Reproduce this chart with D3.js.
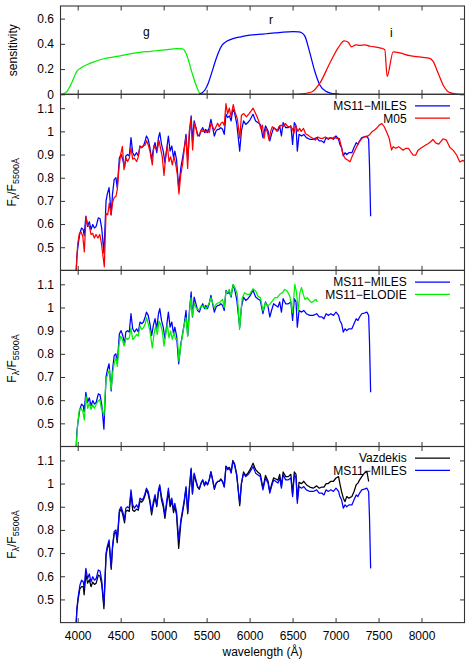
<!DOCTYPE html>
<html lang="en">
<head>
<meta charset="UTF-8">
<title>Spectra comparison</title>
<style>
    body { margin: 0; background: #fff; }
    #SVG { font-family: "Liberation Sans", Arial, sans-serif; }
    .tick text { font-size: 12px; fill: #000; font-family: "Liberation Sans", Arial, sans-serif; }
    .tick line { stroke: #333; stroke-width: 1; }
    .lbl { font-size: 12px; fill: #000; }
</style>
</head>
<body>
<svg id="SVG"></svg>
<script src="https://d3js.org/d3.v7.min.js"></script>
<script>

// ---------------- data ----------------

// filter response curves
var gWl   = [3810, 3872, 3930, 3988, 4050, 4105, 4180, 4260, 4350, 4453, 4590, 4724, 4850, 4957, 5060, 5151, 5221, 5267, 5326, 5384, 5422, 5480, 5600];
var gSens = [0, 0.02, 0.09, 0.18, 0.215, 0.234, 0.255, 0.274, 0.288, 0.30, 0.318, 0.333, 0.341, 0.349, 0.356, 0.362, 0.36, 0.314, 0.18, 0.06, 0.008, 0.002, 0];

var rWl   = [5414, 5480, 5520, 5558, 5600, 5635, 5680, 5733, 5809, 5900, 6003, 6100, 6198, 6300, 6391, 6507, 6570, 6605, 6643, 6701, 6759, 6817, 6895, 6972, 7050];
var rSens = [0, 0.034, 0.09, 0.168, 0.26, 0.328, 0.39, 0.42, 0.442, 0.456, 0.469, 0.475, 0.48, 0.486, 0.493, 0.496, 0.494, 0.488, 0.461, 0.328, 0.181, 0.074, 0.021, 0.005, 0];

var iWl   = [6500, 6585, 6721, 6817, 6934, 7030, 7100, 7147, 7186, 7236, 7283, 7341, 7400, 7515, 7573, 7600, 7670, 7748, 7864, 7980, 8096, 8135, 8193, 8251, 8329, 8445, 8500];
var iSens = [0, 0.002, 0.018, 0.088, 0.248, 0.368, 0.424, 0.413, 0.376, 0.392, 0.387, 0.392, 0.381, 0.368, 0.354, 0.141, 0.336, 0.328, 0.306, 0.296, 0.285, 0.261, 0.168, 0.074, 0.013, 0, 0];

var filterNames = ["g", "r", "i"];
var filterLabelWl = [4800, 6250, 7650];
var filterLabelS  = [0.46, 0.555, 0.455];

// MS11-MILES (also the wavelength grid of Vazdekis)
var milesWl = [3980, 3990, 4005, 4025, 4045, 4065, 4075, 4095, 4115, 4135,
    4155, 4175, 4195, 4215, 4240, 4260, 4280, 4305, 4330, 4345,
    4365, 4390, 4405, 4425, 4445, 4460, 4485, 4505, 4525, 4545,
    4560, 4580, 4600, 4620, 4640, 4660, 4685, 4705, 4725, 4745,
    4765, 4785, 4800, 4820, 4840, 4860, 4880, 4900, 4920, 4940,
    4955, 4975, 4995, 5015, 5035, 5055, 5075, 5095, 5115, 5130,
    5150, 5175, 5200, 5220, 5240, 5260, 5280, 5300, 5320, 5335,
    5355, 5375, 5395, 5415, 5435, 5455, 5475, 5490, 5510, 5530,
    5550, 5570, 5590, 5610, 5630, 5645, 5665, 5685, 5705, 5725,
    5745, 5765, 5785, 5805, 5825, 5850, 5885, 5905, 5930, 5955,
    5980, 6005, 6040, 6070, 6095, 6125, 6155, 6185, 6215, 6235,
    6255, 6280, 6305, 6330, 6350, 6370, 6390, 6420, 6450, 6480,
    6500, 6520, 6540, 6555, 6575, 6605, 6630, 6660, 6700, 6740,
    6780, 6810, 6840, 6865, 6890, 6915, 6945, 6975, 7005, 7035,
    7050, 7070, 7090, 7110, 7130, 7155, 7190, 7215, 7240, 7260,
    7280, 7305, 7335, 7365, 7385, 7395, 7408];

var milesFlux = [0.38, 0.46, 0.51, 0.56, 0.583, 0.576, 0.55, 0.634, 0.59, 0.61,
    0.576, 0.598, 0.583, 0.59, 0.627, 0.623, 0.58, 0.475, 0.70, 0.73,
    0.757, 0.64, 0.73, 0.793, 0.80, 0.757, 0.886, 0.90, 0.878, 0.843,
    0.894, 0.90, 0.894, 0.973, 0.908, 0.894, 0.908, 0.894, 0.937, 0.93,
    0.937, 0.959, 0.98, 0.966, 0.93, 0.878, 0.922, 0.952, 0.908, 0.973,
    0.995, 0.944, 0.915, 0.865, 0.922, 0.98, 0.915, 0.937, 0.886, 0.915,
    0.878, 0.757, 0.843, 0.886, 0.93, 0.987, 0.878, 0.987, 1.067, 0.959,
    1.045, 1.016, 0.987, 0.98, 1.002, 1.016, 0.995, 1.009, 0.995, 1.016,
    1.052, 1.016, 0.98, 1.002, 1.009, 1.009, 1.016, 1.009, 0.987, 1.074,
    1.06, 1.067, 1.045, 1.096, 1.08, 1.035, 0.915, 1.002, 1.045, 1.03,
    1.038, 1.05, 1.074, 1.045, 1.038, 1.03, 0.973, 1.024, 1.002, 0.959,
    0.987, 1.016, 1.009, 1.002, 1.024, 0.98, 1.038, 1.016, 1.016, 1.024,
    0.944, 1.038, 1.024, 0.915, 0.987, 0.98, 0.987, 0.973, 0.966, 0.966,
    0.973, 0.959, 0.959, 0.951, 0.973, 0.966, 0.973, 0.966, 0.98, 0.966,
    0.944, 0.93, 0.894, 0.908, 0.90, 0.908, 0.908, 0.93, 0.951, 0.944,
    0.959, 0.973, 0.976, 0.98, 0.965, 0.85, 0.634];

// Vazdekis, on the milesWl grid up to 7385
var vazdekisFlux = [0.38, 0.45, 0.50, 0.545, 0.555, 0.555, 0.52, 0.61, 0.57, 0.585,
    0.555, 0.575, 0.565, 0.57, 0.605, 0.60, 0.565, 0.46, 0.69, 0.72,
    0.745, 0.63, 0.72, 0.785, 0.79, 0.745, 0.875, 0.89, 0.865, 0.83,
    0.88, 0.885, 0.88, 0.96, 0.885, 0.88, 0.89, 0.885, 0.925, 0.92,
    0.93, 0.95, 0.975, 0.955, 0.92, 0.865, 0.91, 0.94, 0.90, 0.965,
    0.985, 0.93, 0.90, 0.85, 0.91, 0.965, 0.90, 0.925, 0.875, 0.90,
    0.865, 0.72, 0.83, 0.875, 0.92, 0.98, 0.87, 0.98, 1.06, 0.955,
    1.04, 1.01, 0.985, 0.975, 1.0, 1.015, 0.99, 1.005, 0.995, 1.015,
    1.05, 1.015, 0.975, 1.0, 1.01, 1.01, 1.02, 1.01, 0.985, 1.075,
    1.065, 1.07, 1.05, 1.10, 1.085, 1.04, 0.905, 1.0, 1.05, 1.035,
    1.045, 1.06, 1.088, 1.06, 1.05, 1.04, 0.98, 1.035, 1.01, 0.965,
    0.995, 1.025, 1.02, 1.015, 1.04, 0.99, 1.05, 1.03, 1.03, 1.04,
    0.955, 1.05, 1.04, 0.93, 1.005, 1.0, 1.01, 0.995, 0.985, 0.98,
    0.99, 0.98, 0.985, 0.985, 1.0, 1.0, 1.01, 1.01, 1.024, 1.03,
    1.0, 0.965, 0.937, 0.922, 0.944, 0.937, 0.944, 0.966, 0.995, 1.002,
    1.016, 1.03, 1.045, 1.052, 1.009];

// M05
var m05Wl = [3980, 4000, 4020, 4040, 4060, 4077, 4097, 4116, 4136, 4155,
    4174, 4194, 4213, 4236, 4256, 4275, 4310, 4329, 4349, 4368,
    4388, 4407, 4426, 4446, 4461, 4481, 4500, 4520, 4539, 4562,
    4581, 4601, 4620, 4640, 4659, 4686, 4705, 4725, 4744, 4764,
    4783, 4802, 4822, 4841, 4868, 4887, 4907, 4926, 4946, 4965,
    4984, 5004, 5023, 5043, 5062, 5081, 5101, 5120, 5140, 5159,
    5178, 5198, 5221, 5240, 5260, 5279, 5298, 5318, 5337, 5357,
    5376, 5395, 5415, 5434, 5453, 5473, 5492, 5512, 5531, 5550,
    5570, 5589, 5609, 5628, 5647, 5667, 5686, 5705, 5725, 5744,
    5764, 5783, 5810, 5829, 5857, 5886, 5905, 5932, 5963, 5994,
    6021, 6040, 6060, 6087, 6110, 6129, 6149, 6168, 6187, 6206,
    6226, 6245, 6264, 6291, 6318, 6341, 6369, 6388, 6415, 6446,
    6473, 6496, 6515, 6535, 6561, 6581, 6600, 6627, 6650, 6677,
    6708, 6735, 6766, 6793, 6820, 6851, 6882, 6909, 6936, 6967,
    6986, 7005, 7044, 7063, 7090, 7113, 7140, 7168, 7191, 7218,
    7245, 7276, 7307, 7334, 7361, 7392, 7423, 7450, 7477, 7508,
    7539, 7566, 7593, 7624, 7651, 7670, 7701, 7732, 7759, 7786,
    7817, 7848, 7875, 7902, 7933, 7960, 7991, 8018, 8049, 8080,
    8106, 8133, 8164, 8200, 8250, 8290, 8330, 8370, 8410, 8445,
    8480, 8500];

var m05Flux = [0.38, 0.515, 0.56, 0.565, 0.545, 0.48, 0.63, 0.595, 0.59, 0.555,
    0.56, 0.54, 0.555, 0.54, 0.555, 0.52, 0.415, 0.645, 0.64, 0.69,
    0.64, 0.695, 0.715, 0.72, 0.75, 0.845, 0.90, 0.935, 0.835, 0.885,
    0.87, 0.885, 0.93, 0.88, 0.885, 0.87, 0.89, 0.935, 0.93, 0.94,
    0.94, 0.96, 0.94, 0.915, 0.855, 0.94, 0.925, 0.92, 0.96, 0.925,
    0.89, 0.81, 0.89, 0.94, 0.87, 0.89, 0.855, 0.89, 0.86, 0.815,
    0.73, 0.81, 0.86, 0.925, 0.975, 0.84, 1.0, 1.055, 0.92, 1.035,
    1.015, 0.98, 0.985, 1.005, 1.0, 1.005, 0.995, 1.005, 0.995, 1.035,
    1.02, 1.005, 1.02, 1.035, 1.02, 1.035, 1.04, 1.025, 1.12, 1.075,
    1.1, 1.065, 1.115, 1.085, 1.055, 0.97, 1.07, 1.077, 1.063, 1.077,
    1.09, 1.1, 1.085, 1.063, 1.04, 1.013, 1.027, 0.97, 1.013, 1.0,
    0.962, 1.0, 1.02, 1.013, 1.0, 1.02, 1.027, 1.02, 1.034, 1.02,
    1.02, 1.013, 0.99, 1.027, 1.0, 1.013, 1.0, 1.013, 0.99, 0.984,
    0.976, 0.97, 0.962, 0.976, 0.97, 0.97, 0.976, 0.97, 0.972, 0.97,
    0.976, 0.97, 0.97, 0.94, 0.897, 0.883, 0.876, 0.869, 0.89, 0.912,
    0.933, 0.955, 0.97, 0.976, 0.976, 0.984, 0.998, 1.005, 1.013, 1.027,
    1.034, 1.02, 0.998, 0.97, 0.92, 0.934, 0.927, 0.934, 0.927, 0.919,
    0.927, 0.927, 0.912, 0.898, 0.898, 0.919, 0.927, 0.934, 0.941, 0.948,
    0.955, 0.965, 0.95, 0.945, 0.968, 0.962, 0.93, 0.918, 0.897, 0.868,
    0.875, 0.87];

// MS11-ELODIE
var elodieWl = [3980, 4000, 4020, 4040, 4060, 4077, 4097, 4116, 4136, 4155,
    4174, 4194, 4213, 4236, 4256, 4275, 4306, 4329, 4349, 4368,
    4388, 4407, 4426, 4446, 4461, 4481, 4500, 4520, 4539, 4562,
    4581, 4601, 4620, 4640, 4659, 4686, 4705, 4725, 4744, 4764,
    4783, 4802, 4822, 4841, 4868, 4887, 4907, 4926, 4946, 4965,
    4984, 5004, 5023, 5043, 5062, 5081, 5101, 5120, 5140, 5159,
    5178, 5198, 5221, 5240, 5260, 5279, 5298, 5318, 5337, 5357,
    5376, 5395, 5415, 5434, 5453, 5473, 5492, 5512, 5531, 5550,
    5570, 5589, 5609, 5628, 5647, 5667, 5686, 5705, 5725, 5744,
    5764, 5783, 5810, 5829, 5857, 5883, 5914, 5942, 5969, 6000,
    6039, 6070, 6097, 6125, 6156, 6183, 6207, 6234, 6265, 6292,
    6320, 6351, 6382, 6409, 6436, 6468, 6499, 6526, 6546, 6565,
    6585, 6604, 6624, 6643, 6670, 6702, 6721, 6748, 6772, 6788];

var elodieFlux = [0.38, 0.50, 0.56, 0.565, 0.55, 0.515, 0.617, 0.565, 0.588, 0.56,
    0.58, 0.565, 0.58, 0.595, 0.602, 0.565, 0.535, 0.69, 0.71, 0.732,
    0.645, 0.718, 0.761, 0.782, 0.746, 0.84, 0.876, 0.862, 0.833, 0.869,
    0.862, 0.869, 0.912, 0.862, 0.869, 0.884, 0.876, 0.92, 0.905, 0.912,
    0.927, 0.956, 0.927, 0.898, 0.826, 0.884, 0.92, 0.884, 0.941, 0.927,
    0.898, 0.833, 0.884, 0.927, 0.869, 0.898, 0.862, 0.891, 0.862, 0.869,
    0.768, 0.833, 0.884, 0.927, 0.956, 0.876, 0.97, 1.042, 0.963, 1.02,
    0.999, 0.992, 0.992, 1.006, 1.006, 1.006, 0.992, 1.006, 1.02, 1.042,
    1.02, 0.999, 1.013, 1.02, 1.02, 1.028, 1.035, 0.999, 1.071, 1.064,
    1.078, 1.049, 1.1, 1.086, 1.057, 0.905, 1.042, 1.064, 1.057, 1.057,
    1.081, 1.071, 1.049, 1.042, 0.985, 1.021, 1.006, 1.013, 1.028, 1.042,
    1.042, 1.057, 1.064, 1.078, 1.071, 1.049, 0.978, 1.1, 1.064, 0.985,
    1.064, 1.086, 1.057, 1.035, 1.042, 1.028, 1.021, 1.028, 1.035, 1.024];

// axis ticks
var xTickValues = [4000, 4500, 5000, 5500, 6000, 6500, 7000, 7500, 8000];
var sensTicks = [0, 0.2, 0.4, 0.6];
var fluxTicks = [0.5, 0.6, 0.7, 0.8, 0.9, 1, 1.1];

// ---------------- layout ----------------

var width = 469;
var height = 670;
var left = 60.5;
var right = 464.5;
var tickLen = 4.5;

var svg = d3.select("#SVG")
    .attr("width", width)
    .attr("height", height);

var x = d3.scaleLinear().domain([3800, 8500]).range([left, right]);
var fmt = d3.format("~g");

// each panel: top, bottom, y domain, tick values
var panels = [
    { top: 6,     bottom: 94.3,  domain: [0, 0.7],     ticks: sensTicks },
    { top: 94.3,  bottom: 270.4, domain: [0.4, 1.16],  ticks: fluxTicks },
    { top: 270.4, bottom: 446.5, domain: [0.4, 1.16],  ticks: fluxTicks },
    { top: 446.5, bottom: 622.6, domain: [0.4, 1.16],  ticks: fluxTicks }
];

panels.forEach(function (p, i) {
    p.y = d3.scaleLinear().domain(p.domain).range([p.bottom, p.top]);
    p.g = svg.append("g");

    svg.append("clipPath").attr("id", "clip" + i)
        .append("rect")
        .attr("x", left).attr("y", p.top)
        .attr("width", right - left).attr("height", p.bottom - p.top);

    // ticks on all four sides, pointing inwards
    p.g.append("g").attr("transform", `translate(${left},0)`)
        .call(d3.axisLeft(p.y).tickValues(p.ticks).tickFormat(fmt)
            .tickSize(-tickLen).tickSizeOuter(0).tickPadding(6.5));
    p.g.append("g").attr("transform", `translate(${right},0)`)
        .call(d3.axisRight(p.y).tickValues(p.ticks).tickFormat("")
            .tickSize(-tickLen).tickSizeOuter(0));
    p.g.append("g").attr("transform", `translate(0,${p.top})`)
        .call(d3.axisTop(x).tickValues(xTickValues).tickFormat("")
            .tickSize(-tickLen).tickSizeOuter(0));
    p.g.append("g").attr("transform", `translate(0,${p.bottom})`)
        .call(d3.axisBottom(x).tickValues(xTickValues)
            .tickFormat(i === panels.length - 1 ? fmt : "")
            .tickSize(-tickLen).tickSizeOuter(0).tickPadding(8.4));

    p.g.selectAll(".domain").remove();

    p.plot = p.g.append("g").attr("clip-path", `url(#clip${i})`);
});

function drawLine(panel, wl, vals, color, curve) {
    var pts = d3.zip(wl, vals);
    var line = d3.line()
        .x(d => x(d[0]))
        .y(d => panel.y(d[1]));
    if (curve) line.curve(curve);
    panel.plot.append("path")
        .datum(pts)
        .attr("d", line)
        .attr("fill", "none")
        .attr("stroke", color)
        .attr("stroke-width", 1.25)
        .attr("stroke-linejoin", "round");
}

// legend: text right aligned, sample line to the right
function legend(panel, names, colors) {
    names.forEach(function (n, k) {
        var cy = panel.top + 11.6 + k * 12.3;
        svg.append("text").attr("class", "lbl")
            .attr("x", 406.7).attr("y", cy + 4.3)
            .attr("text-anchor", "end")
            .text(n);
        svg.append("line")
            .attr("x1", 415).attr("x2", 450)
            .attr("y1", cy).attr("y2", cy)
            .attr("stroke", colors[k]).attr("stroke-width", 1.25);
    });
}

var green = "#00f000";

// ---------------- panel 1 : filters ----------------
var p0 = panels[0];
drawLine(p0, gWl, gSens, green, d3.curveMonotoneX);
drawLine(p0, rWl, rSens, "#0000ff", d3.curveMonotoneX);
drawLine(p0, iWl, iSens, "#ff0000", d3.curveMonotoneX);

filterNames.forEach(function (n, k) {
    svg.append("text").attr("class", "lbl")
        .attr("x", x(filterLabelWl[k]))
        .attr("y", p0.y(filterLabelS[k]))
        .attr("text-anchor", "middle")
        .text(n);
});

// ---------------- panel 2 : MILES vs M05 ----------------
drawLine(panels[1], milesWl, milesFlux, "#0000ff");
drawLine(panels[1], m05Wl, m05Flux, "#ff0000");
legend(panels[1], ["MS11\u2212MILES", "M05"], ["#0000ff", "#ff0000"]);

// ---------------- panel 3 : MILES vs ELODIE ----------------
drawLine(panels[2], milesWl, milesFlux, "#0000ff");
drawLine(panels[2], elodieWl, elodieFlux, green);
legend(panels[2], ["MS11\u2212MILES", "MS11\u2212ELODIE"], ["#0000ff", green]);

// ---------------- panel 4 : Vazdekis vs MILES ----------------
drawLine(panels[3], milesWl.slice(0, vazdekisFlux.length), vazdekisFlux, "#000000");
drawLine(panels[3], milesWl, milesFlux, "#0000ff");
legend(panels[3], ["Vazdekis", "MS11\u2212MILES"], ["#000000", "#0000ff"]);

// borders drawn last
panels.forEach(function (p) {
    svg.append("rect")
        .attr("x", left).attr("y", p.top)
        .attr("width", right - left).attr("height", p.bottom - p.top)
        .attr("fill", "none").attr("stroke", "#333").attr("stroke-width", 1.1);
});

// ---------------- axis titles ----------------
svg.append("text").attr("class", "lbl")
    .attr("transform", `translate(16.5,${(p0.top + p0.bottom) / 2}) rotate(-90)`)
    .attr("text-anchor", "middle")
    .text("sensitivity");

panels.slice(1).forEach(function (p) {
    var t = svg.append("text").attr("class", "lbl")
        .attr("transform", `translate(15.5,${(p.top + p.bottom) / 2}) rotate(-90)`)
        .attr("text-anchor", "middle");
    t.append("tspan").text("F");
    t.append("tspan").attr("dy", 3).style("font-size", "9px").text("\u03bb");
    t.append("tspan").attr("dy", -3).text("/F");
    t.append("tspan").attr("dy", 3).style("font-size", "9px").text("5500\u00c5");
});

svg.append("text").attr("class", "lbl")
    .attr("x", (left + right) / 2).attr("y", 656)
    .attr("text-anchor", "middle")
    .text("wavelength (\u00c5)");

</script>
</body>
</html>
